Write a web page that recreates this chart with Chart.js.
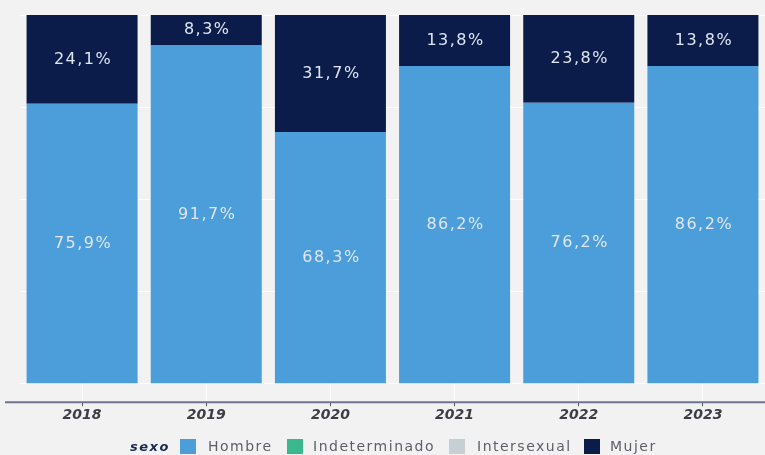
<!DOCTYPE html>
<html>
<head>
<meta charset="utf-8">
<script src="https://cdn.jsdelivr.net/npm/chart.js@4"></script>
<style>
  body { margin: 0; background: #f2f2f2; }
  #wrap { position: relative; width: 765px; height: 455px; }
  #legend {
    position: absolute; left: 0; top: 438px; width: 765px; height: 17px;
    font-family: "DejaVu Sans", sans-serif; font-size: 14px; color: #5c5f66; letter-spacing: 1.5px;
  }
  #legend span { position: absolute; top: 0; line-height: 17px; white-space: nowrap; }
  #legend .title { font-weight: bold; font-style: italic; color: #1c2a50; font-size: 13px; letter-spacing: 1.5px; }
  #legend .box { width: 16px; height: 15px; top: 1px; }
</style>
</head>
<body>
<div id="wrap">
  <canvas id="chart" width="765" height="455"></canvas>
  <div id="legend"></div>
</div>
<script>
const years = ["2018", "2019", "2020", "2021", "2022", "2023"];
const hombre = [75.9, 91.7, 68.3, 86.2, 76.2, 86.2];
const indeterminado = [0, 0, 0, 0, 0, 0];
const intersexual = [0, 0, 0, 0, 0, 0];
const mujer = [24.1, 8.3, 31.7, 13.8, 23.8, 13.8];

const colors = {
  Hombre: "#4b9ed9",
  Indeterminado: "#3cb88f",
  Intersexual: "#c6d0d4",
  Mujer: "#0b1c4b",
};

// percentages in the middle of each segment
const segmentLabels = {
  id: "segmentLabels",
  afterDatasetsDraw(chart) {
    const ctx = chart.ctx;
    ctx.save();
    ctx.font = "16px 'DejaVu Sans', sans-serif";
    ctx.letterSpacing = "1.5px";
    ctx.fillStyle = "#dfe6f1";
    ctx.textAlign = "center";
    ctx.textBaseline = "middle";
    chart.data.datasets.forEach((ds, i) => {
      chart.getDatasetMeta(i).data.forEach((bar, j) => {
        const v = ds.data[j];
        if (!v) return;
        const p = bar.getProps(["x", "y", "base"], true);
        ctx.fillText(v.toFixed(1).replace(".", ",") + "%", p.x + 1, (p.y + p.base) / 2);
      });
    });
    ctx.restore();
  },
};

// x axis line, running a bit past the plot on the left
const axisLine = {
  id: "axisLine",
  afterDraw(chart) {
    const ctx = chart.ctx;
    const y = chart.scales.y.getPixelForValue(-5);
    ctx.save();
    ctx.strokeStyle = "#6e7390";
    ctx.lineWidth = 2;
    ctx.beginPath();
    ctx.moveTo(5, y);
    ctx.lineTo(chart.chartArea.right, y);
    ctx.stroke();
    ctx.restore();
  },
};

function makeSet(label, data) {
  return {
    label: label,
    data: data,
    backgroundColor: colors[label],
    borderWidth: 0,
    categoryPercentage: 1,
    barPercentage: 0.894,
  };
}

new Chart(document.getElementById("chart"), {
  type: "bar",
  data: {
    labels: years,
    datasets: [
      makeSet("Hombre", hombre),
      makeSet("Indeterminado", indeterminado),
      makeSet("Intersexual", intersexual),
      makeSet("Mujer", mujer),
    ],
  },
  options: {
    responsive: false,
    animation: false,
    layout: { padding: { left: 20, right: 0, top: 15, bottom: 30 } },
    plugins: { legend: { display: false }, tooltip: { enabled: false } },
    scales: {
      x: {
        stacked: true,
        border: { display: false },
        grid: {
          offset: false,
          color: "rgba(255,255,255,0.9)",
          tickColor: "#4a4d5a",
          tickLength: 4,
          lineWidth: 1,
        },
        ticks: {
          color: "#3c3e44",
          padding: 1,
          font: { family: "DejaVu Sans", size: 14, weight: "bold", style: "italic" },
        },
      },
      y: {
        stacked: true,
        min: -5,
        max: 100,
        display: true,
        border: { display: false },
        grid: { color: "rgba(255,255,255,0.8)", drawTicks: false },
        ticks: { display: false, stepSize: 25 },
      },
    },
  },
  plugins: [segmentLabels, axisLine],
});

// legend, laid out like the reference
const legendNames = ["Hombre", "Indeterminado", "Intersexual", "Mujer"];
const legendBoxX = [180, 287, 449, 584];
const legendTextX = [208, 313, 477, 610];
const legend = document.getElementById("legend");
legend.innerHTML = '<span class="title" style="left:130px">sexo</span>';
legendNames.forEach((name, i) => {
  legend.innerHTML +=
    '<span class="box" style="left:' + legendBoxX[i] + 'px;background:' + colors[name] + '"></span>' +
    '<span style="left:' + legendTextX[i] + 'px">' + name + '</span>';
});
</script>
</body>
</html>
